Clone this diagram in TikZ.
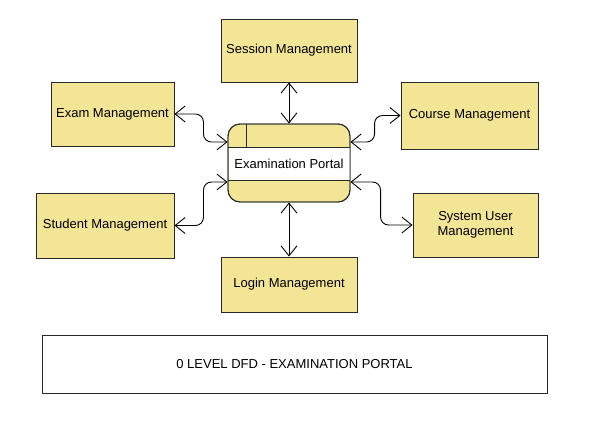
\documentclass[tikz,border=0pt]{standalone}
\usepackage{fontspec}
\setmainfont{Liberation Sans}
\usetikzlibrary{arrows.meta}
\definecolor{boxfill}{RGB}{243,229,150}
\definecolor{edge}{RGB}{40,40,40}
\begin{document}
\begin{tikzpicture}[x=1pt,y=-1pt,
  entity/.style={draw=edge,line width=0.9pt,fill=boxfill,font=\fontsize{13}{15.5}\selectfont,align=center,inner sep=2pt},
  flow/.style={draw=black,line width=0.9pt,rounded corners=8pt,
    {Straight Barb[length=10pt,width=16pt,line width=0.9pt]}-{Straight Barb[length=10pt,width=16pt,line width=0.9pt]}}]
\useasboundingbox (0,0) rectangle (603,426);
\fill[white] (0,0) rectangle (603,426);

\node[entity,minimum width=136pt,minimum height=63pt] (sess) at (289,50.5) {Session Management};
\node[entity,minimum width=123pt,minimum height=64pt] (exam) at (112.5,114) {Exam Management};
\node[entity,minimum width=137pt,minimum height=67pt] (course) at (469.5,115.5) {Course Management};
\node[entity,minimum width=125pt,minimum height=64pt] (sysu) at (475.5,225) {System User\\Management};
\node[entity,minimum width=138pt,minimum height=65pt] (stud) at (105,225.5) {Student Management};
\node[entity,minimum width=136pt,minimum height=55pt] (login) at (289,284.5) {Login Management};

% process
\node[draw=edge,line width=0.9pt,fill=boxfill,rounded corners=12pt,minimum width=122pt,minimum height=78pt] (portal) at (289,163) {};
\fill[white] (228.5,147) rectangle (349.5,180);
\draw[edge,line width=0.9pt] (228,147) -- (350,147) (228,180) -- (350,180) (246,124) -- (246,147);
\draw[edge,line width=0.9pt,rounded corners=12pt] (228,124) rectangle (350,202);
\node[font=\fontsize{13}{15.5}\selectfont] (ptext) at (289,163.5) {Examination Portal};

\node[draw=edge,line width=0.9pt,fill=white,minimum width=505pt,minimum height=58pt,font=\fontsize{13}{15.5}\selectfont] (title) at (294.5,364) {0 LEVEL DFD - EXAMINATION PORTAL};

\draw[flow] (sess.south) -- (portal.north);
\draw[flow] (portal.south) -- (login.north);
\draw[flow] (exam.east) -- ++(29,0) |- ([yshift=21pt]portal.west);
\draw[flow] (stud.east) -- ++(29,0) |- ([yshift=-19pt]portal.west);
\draw[flow] (course.west) -- ++(-26,0) |- ([yshift=21pt]portal.east);
\draw[flow] (sysu.west) -- ++(-32,0) |- ([yshift=-19pt]portal.east);
\end{tikzpicture}
\end{document}
